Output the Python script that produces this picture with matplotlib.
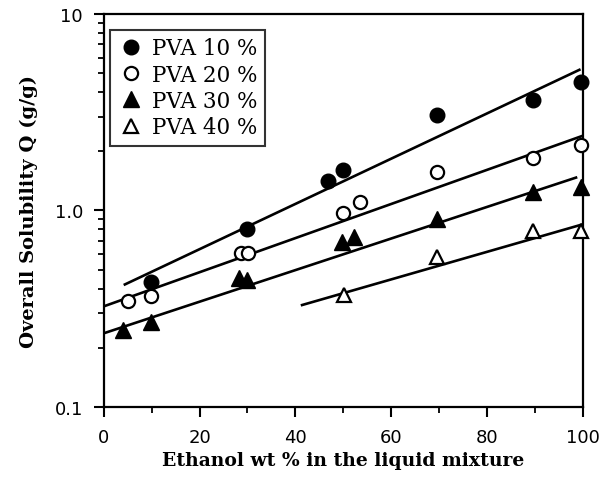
import matplotlib.pyplot as plt
from matplotlib.ticker import FixedLocator, NullFormatter

# data
x10 = [9.9, 30, 46.8, 50, 69.5, 89.6, 99.6]
q10 = [0.43, 0.80, 1.42, 1.61, 3.06, 3.66, 4.52]
x20 = [5.0, 9.9, 28.6, 30.2, 50, 53.6, 69.5, 89.7, 99.6]
q20 = [0.345, 0.365, 0.605, 0.605, 0.97, 1.10, 1.57, 1.85, 2.16]
x30 = [4.0, 9.9, 28.3, 30, 49.8, 52.2, 69.5, 89.6, 99.6]
q30 = [0.245, 0.27, 0.452, 0.443, 0.69, 0.73, 0.905, 1.24, 1.31]
x40 = [50.1, 69.5, 89.6, 99.6]
q40 = [0.37, 0.578, 0.79, 0.79]

# fitted lines (end points)
fit10_x, fit10_q = [4.4, 99.3], [0.42, 5.2]
fit20_x, fit20_q = [0, 100], [0.325, 2.4]
fit30_x, fit30_q = [0, 98.6], [0.237, 1.47]
fit40_x, fit40_q = [41.4, 100], [0.33, 0.85]

labels = ["PVA 10 %", "PVA 20 %", "PVA 30 %", "PVA 40 %"]

fig = plt.figure(figsize=(6.07, 4.85), dpi=100)
ax = fig.add_axes([0.171, 0.159, 0.789, 0.810])

lw = 1.9
for fx, fq in [(fit10_x, fit10_q), (fit20_x, fit20_q), (fit30_x, fit30_q), (fit40_x, fit40_q)]:
    ax.plot(fx, fq, color="black", linewidth=lw, zorder=2)

ms = 10.5
h1, = ax.plot(x10, q10, "o", color="black", markersize=ms, zorder=3, clip_on=False)
h2, = ax.plot(x20, q20, "o", mfc="white", mec="black", mew=1.6, markersize=ms - 1, zorder=3, clip_on=False)
h3, = ax.plot(x30, q30, "^", color="black", markersize=ms + 0.5, zorder=3, clip_on=False)
h4, = ax.plot(x40, q40, "^", mfc="white", mec="black", mew=1.6, markersize=ms, zorder=3, clip_on=False)

ax.set_yscale("log")
ax.set_xlim(0, 100)
ax.set_ylim(0.1, 10)
ax.yaxis.set_major_locator(FixedLocator([0.1, 1.0, 10]))
ax.set_yticklabels(["0.1", "1.0", "10"])
ax.yaxis.set_minor_formatter(NullFormatter())
ax.set_xticks([0, 20, 40, 60, 80, 100])
ax.set_xticks([10, 30, 50, 70, 90], minor=True)

for s in ax.spines.values():
    s.set_linewidth(1.6)

ax.tick_params(which="major", direction="out", length=7, width=1.5, labelsize=13, pad=8)
ax.tick_params(which="minor", direction="out", length=4, width=1.3)
ax.tick_params(axis="y", which="both", right=False)

ax.set_xlabel("Ethanol wt % in the liquid mixture", family="DejaVu Serif",
              fontweight="bold", fontsize=13.5, labelpad=4)
ax.set_ylabel("Overall Solubility Q (g/g)", family="DejaVu Serif",
              fontweight="bold", fontsize=14, labelpad=12)

leg = ax.legend([h1, h2, h3, h4], labels, loc="upper left", bbox_to_anchor=(0.012, 0.96),
                prop={"family": "DejaVu Serif", "size": 15.5}, frameon=True, fancybox=False,
                borderpad=0.35, handletextpad=0.3, handlelength=1.3, labelspacing=0.2,
                borderaxespad=0)
leg.get_frame().set_edgecolor("black")
leg.get_frame().set_linewidth(1.5)

fig.savefig("out.png", dpi=100)
